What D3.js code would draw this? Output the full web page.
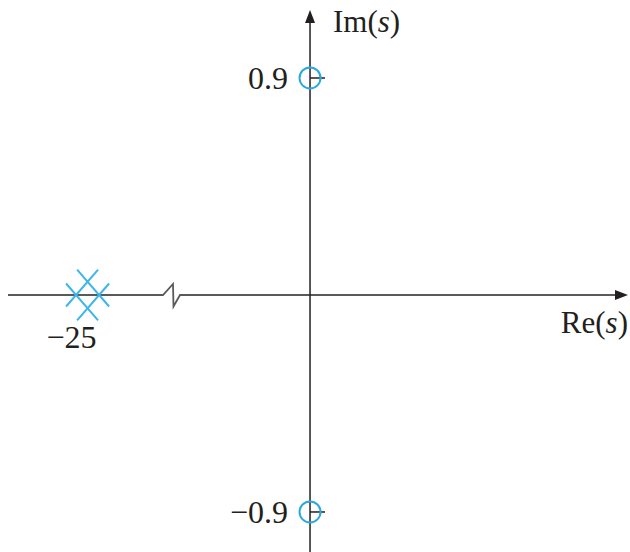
<!DOCTYPE html>
<html>
<head>
<meta charset="utf-8">
<script src="https://cdn.jsdelivr.net/npm/d3@7"></script>
<style>
  html, body { margin: 0; padding: 0; background: #fff; }
  svg { display: block; }
</style>
</head>
<body>
<div id="chart"></div>
<script>
// Pole-zero map: two zeros on the imaginary axis, double pole at -25.
// The real axis is broken between -25 and the origin.

const zerosIm   = [0.9, -0.9];        // zeros at s = ±j0.9
const polesRe   = [-25, -25];         // double pole at s = -25
const imTicks   = [0.9, -0.9];
const reTicks   = [-25];
const reDomain  = [-25.33, -24.65, -0.573, 1.32];  // left piece | break | right piece
const imDomain  = [-1.066, 1.182];

const W = 630, H = 552;
const INK  = "#231f20";
const AXIS = "#5a5a5a";
const BLUE = "#2aa8e0";
const FONT = "'Liberation Serif', 'Times New Roman', serif";

const svg = d3.select("#chart").append("svg")
  .attr("width", W).attr("height", H)
  .attr("viewBox", `0 0 ${W} ${H}`);

// broken real axis: collapsed middle segment
const x = d3.scaleLinear()
  .domain(reDomain)
  .range([8, 172, 172, 628]);

const y = d3.scaleLinear()
  .domain(imDomain)
  .range([H, 10]);

const x0 = x(0), y0 = y(0);
const fmt = d3.format(".1f");

// ---- real axis with break mark
const xb = x(reDomain[1]);
const xLeft = x(reDomain[0]), xRight = x(reDomain[3]);
const realPath = d3.path();
realPath.moveTo(xLeft, y0);
realPath.lineTo(xb - 9, y0);
realPath.lineTo(xb + 1, y0 - 11);
realPath.lineTo(xb + 1.5, y0 + 11.5);
realPath.lineTo(xb + 8, y0);
realPath.lineTo(xRight - 12, y0);

svg.append("path")
  .attr("d", realPath.toString())
  .attr("fill", "none")
  .attr("stroke", AXIS)
  .attr("stroke-width", 1.8)
  .attr("stroke-linejoin", "miter");

svg.append("path")
  .attr("d", `M${xRight},${y0} L${xRight - 13},${y0 - 5} L${xRight - 13},${y0 + 5} Z`)
  .attr("fill", INK);

// ---- imaginary axis
const yTop = y(imDomain[1]);
svg.append("line")
  .attr("x1", x0).attr("x2", x0)
  .attr("y1", y(imDomain[0])).attr("y2", yTop + 10)
  .attr("stroke", INK)
  .attr("stroke-width", 1.5);

svg.append("path")
  .attr("d", `M${x0},${yTop} L${x0 - 5},${yTop + 13} L${x0 + 5},${yTop + 13} Z`)
  .attr("fill", INK);

// ticks on the imaginary axis
svg.selectAll(".im-tick")
  .data(imTicks)
  .join("line")
  .attr("class", "im-tick")
  .attr("x1", x0).attr("x2", x0 + 15)
  .attr("y1", d => y(d)).attr("y2", d => y(d))
  .attr("stroke", INK)
  .attr("stroke-width", 1.5);

svg.selectAll(".im-label")
  .data(imTicks)
  .join("text")
  .attr("class", "im-label")
  .attr("x", x0 - 22)
  .attr("y", d => y(d) + 11)
  .attr("text-anchor", "end")
  .attr("font-family", FONT)
  .attr("font-size", "32px")
  .attr("fill", INK)
  .text(d => fmt(d));

svg.selectAll(".re-label")
  .data(reTicks)
  .join("text")
  .attr("class", "re-label")
  .attr("x", d => x(d) - 16)
  .attr("y", y0 + 53)
  .attr("text-anchor", "middle")
  .attr("font-family", FONT)
  .attr("font-size", "32px")
  .attr("fill", INK)
  .text(d => d3.format("d")(d));

// ---- zeros
svg.selectAll(".zero")
  .data(zerosIm)
  .join("circle")
  .attr("class", "zero")
  .attr("cx", x0)
  .attr("cy", d => y(d))
  .attr("r", 10.5)
  .attr("fill", "none")
  .attr("stroke", BLUE)
  .attr("stroke-width", 2);

// ---- poles: repeated poles drawn as side-by-side crosses
const poleGroups = d3.rollups(polesRe, v => v.length, d => d);
const poleMarks = [];
poleGroups.forEach(([re, n]) => {
  d3.range(n).forEach(i => {
    const s = n === 1 ? 0 : (i - (n - 1) / 2) / ((n - 1) / 2);
    poleMarks.push({ re, s, off: (i - (n - 1) / 2) * 23 });
  });
});

function crossPath(d) {
  const cx = x(d.re) + d.off, cy = y0;
  const outer = d.s === 0 ? 16 : 10;
  const inner = d.s === 0 ? 16 : 22;
  const dir = d.s === 0 ? -1 : Math.sign(d.s);
  const k = 1.15;
  const p = d3.path();
  p.moveTo(cx + dir * outer, cy + outer * k);
  p.lineTo(cx - dir * inner, cy - inner * k);
  p.moveTo(cx + dir * outer, cy - outer * k);
  p.lineTo(cx - dir * inner, cy + inner * k);
  return p.toString();
}

svg.selectAll(".pole")
  .data(poleMarks)
  .join("path")
  .attr("class", "pole")
  .attr("d", crossPath)
  .attr("fill", "none")
  .attr("stroke", "#3db6ea")
  .attr("stroke-width", 2);

// ---- axis titles
const reTitle = svg.append("text")
  .attr("x", xRight)
  .attr("y", y0 + 38)
  .attr("text-anchor", "end")
  .attr("font-family", FONT)
  .attr("font-size", "31px")
  .attr("fill", INK);
reTitle.append("tspan").text("Re(");
reTitle.append("tspan").attr("font-style", "italic").text("s");
reTitle.append("tspan").text(")");

const imTitle = svg.append("text")
  .attr("x", x0 + 23)
  .attr("y", 32)
  .attr("font-family", FONT)
  .attr("font-size", "31px")
  .attr("fill", INK);
imTitle.append("tspan").text("Im(");
imTitle.append("tspan").attr("font-style", "italic").text("s");
imTitle.append("tspan").text(")");
</script>
</body>
</html>
